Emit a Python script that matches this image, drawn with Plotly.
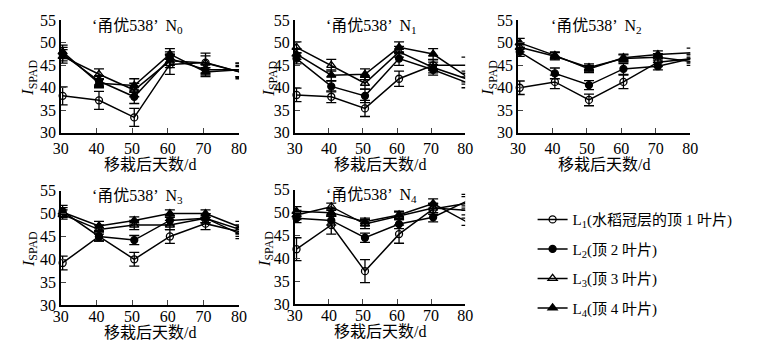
import plotly.graph_objects as go

W, H = 758, 353

days = [30.5, 40.7, 50.6, 60.6, 70.6, 80.4]
tick_vals = [30, 40, 50, 60, 70, 80]
y_ticks = [30, 35, 40, 45, 50, 55]

panel_names = ["N<sub>0</sub>", "N<sub>1</sub>", "N<sub>2</sub>", "N<sub>3</sub>", "N<sub>4</sub>"]
cultivar = "‘甬优538’"

series_names = [
    "L<sub>1</sub>(水稻冠层的顶 1 叶片)",
    "L<sub>2</sub>(顶 2 叶片)",
    "L<sub>3</sub>(顶 3 叶片)",
    "L<sub>4</sub>(顶 4 叶片)",
]

# values per panel (N0..N4), per series (L1..L4)
N0_L1 = [38.2, 37.2, 33.4, 45.2, 45.6, 43.5]
N0_L2 = [47.5, 41.5, 38.0, 46.5, 44.0, 44.0]
N0_L3 = [47.0, 43.0, 39.5, 46.0, 45.5, 43.5]
N0_L4 = [48.0, 41.0, 40.5, 47.5, 43.5, 44.0]
N0_E1 = [2.0, 2.0, 2.0, 2.2, 1.5, 1.2]
N0_E2 = [1.5, 1.2, 1.5, 1.5, 1.2, 1.5]
N0_E3 = [1.5, 1.2, 1.5, 1.5, 2.2, 1.5]
N0_E4 = [1.5, 1.0, 1.5, 1.2, 1.0, 1.5]

N1_L1 = [38.4, 38.0, 35.4, 42.0, 45.0, 45.0]
N1_L2 = [46.5, 40.3, 38.2, 46.5, 44.0, 41.2]
N1_L3 = [49.0, 45.0, 41.0, 48.0, 44.5, 42.0]
N1_L4 = [47.5, 42.8, 43.0, 49.0, 47.5, 42.5]
N1_E1 = [1.5, 1.3, 1.8, 1.7, 1.2, 1.8]
N1_E2 = [1.2, 1.2, 1.5, 1.5, 1.2, 1.2]
N1_E3 = [1.2, 1.3, 1.3, 1.2, 1.2, 1.2]
N1_E4 = [1.2, 1.2, 1.2, 1.2, 1.2, 1.2]

N2_L1 = [40.0, 41.3, 37.3, 41.3, 45.7, 46.5]
N2_L2 = [48.0, 43.2, 40.6, 44.2, 44.8, 46.5]
N2_L3 = [49.0, 47.0, 44.5, 46.5, 46.8, 45.8]
N2_L4 = [50.0, 47.2, 44.2, 46.7, 47.4, 47.8]
N2_E1 = [1.5, 1.5, 1.3, 1.5, 1.0, 1.0]
N2_E2 = [1.0, 1.2, 1.0, 1.2, 0.8, 0.8]
N2_E3 = [1.0, 0.8, 0.8, 0.8, 0.8, 0.8]
N2_E4 = [1.0, 0.8, 0.8, 0.8, 0.8, 1.0]

N3_L1 = [39.2, 45.0, 40.0, 45.0, 47.8, 46.0]
N3_L2 = [50.5, 45.0, 44.2, 48.5, 49.0, 45.5]
N3_L3 = [49.8, 46.5, 47.5, 47.5, 49.0, 46.5]
N3_L4 = [50.3, 47.3, 48.5, 50.0, 50.0, 47.0]
N3_E1 = [1.5, 1.0, 1.5, 1.5, 1.3, 1.0]
N3_E2 = [1.3, 1.0, 1.0, 1.0, 1.0, 1.0]
N3_E3 = [1.0, 1.0, 1.0, 1.0, 1.0, 1.0]
N3_E4 = [1.0, 1.0, 0.8, 0.8, 0.8, 1.3]

N4_L1 = [42.0, 47.3, 37.2, 45.3, 50.8, 52.0]
N4_L2 = [48.8, 48.3, 44.5, 47.5, 49.0, 52.5]
N4_L3 = [49.5, 51.3, 47.5, 49.3, 51.0, 50.5]
N4_L4 = [50.3, 50.0, 48.0, 49.5, 52.0, 48.0]
N4_E1 = [2.5, 2.0, 2.5, 2.0, 1.2, 1.5]
N4_E2 = [1.0, 1.0, 1.0, 1.0, 1.0, 1.5]
N4_E3 = [1.0, 0.8, 1.0, 0.8, 1.0, 1.0]
N4_E4 = [1.0, 0.8, 0.8, 0.8, 1.0, 0.8]

panel_values = [
    [N0_L1, N0_L2, N0_L3, N0_L4],
    [N1_L1, N1_L2, N1_L3, N1_L4],
    [N2_L1, N2_L2, N2_L3, N2_L4],
    [N3_L1, N3_L2, N3_L3, N3_L4],
    [N4_L1, N4_L2, N4_L3, N4_L4],
]
panel_errors = [
    [N0_E1, N0_E2, N0_E3, N0_E4],
    [N1_E1, N1_E2, N1_E3, N1_E4],
    [N2_E1, N2_E2, N2_E3, N2_E4],
    [N3_E1, N3_E2, N3_E3, N3_E4],
    [N4_E1, N4_E2, N4_E3, N4_E4],
]

symbols = ["circle-open", "circle", "triangle-up-open", "triangle-up"]
msizes = [7, 7, 8, 8]

# pixel boxes of the plot areas: (left, right, top, bottom)
boxes = [
    (54, 236, 13, 131),
    (293, 467, 13, 131),
    (521, 697, 13, 131),
    (54, 236, 192, 312),
    (293, 467, 191, 311),
]
ytitle_x = [22, 268, 492, 22, 263]
xtitle_off = [33, 33, 33, 29, 29]
title_dx = [78, 78, 80, 78, 78]

SERIF = "Liberation Serif, Noto Sans CJK SC"
fig = go.Figure()

for p in range(5):
    ax = "" if p == 0 else str(p + 1)
    for s in range(4):
        fig.add_trace(go.Scatter(
            x=days, y=panel_values[p][s],
            mode="lines+markers",
            name=series_names[s],
            legendgroup="g%d" % s,
            showlegend=(p == 0),
            line=dict(color="black", width=1.5),
            marker=dict(symbol=symbols[s], size=msizes[s], color="black",
                        line=dict(color="black", width=1.3)),
            error_y=dict(type="data", array=panel_errors[p][s], visible=True,
                         color="black", thickness=1.3, width=5),
            xaxis="x" + ax, yaxis="y" + ax,
            cliponaxis=False,
        ))

layout = dict(
    width=W, height=H,
    margin=dict(l=0, r=0, t=0, b=0),
    paper_bgcolor="white", plot_bgcolor="white",
    font=dict(family=SERIF, size=15, color="black"),
    legend=dict(x=0.707, y=1 - 205 / H, xanchor="left", yanchor="top",
                font=dict(family=SERIF, size=15, color="black"),
                tracegroupgap=7, bgcolor="rgba(0,0,0,0)"),
    annotations=[],
)

for p, (l, r, t, b) in enumerate(boxes):
    ax = "" if p == 0 else str(p + 1)
    layout["xaxis" + ax] = dict(
        domain=[l / W, r / W], range=[30, 80], anchor="y" + ax,
        tickvals=tick_vals, ticks="inside", ticklen=5, tickwidth=1.3,
        showline=True, linecolor="black", linewidth=1.5, showgrid=False,
        zeroline=False, tickfont=dict(family=SERIF, size=16),
        ticklabelstandoff=(0 if p < 3 else -4),
        fixedrange=True,
    )
    layout["yaxis" + ax] = dict(
        domain=[1 - b / H, 1 - t / H], range=[30, 55], anchor="x" + ax,
        tickvals=y_ticks, ticks="inside", ticklen=5, tickwidth=1.3,
        showline=True, linecolor="black", linewidth=1.5, showgrid=False,
        zeroline=False, tickfont=dict(family=SERIF, size=16),
        fixedrange=True,
    )
    cx = (l + r) / 2 / W
    layout["annotations"].append(dict(
        text=cultivar + "  " + panel_names[p], xref="paper", yref="paper",
        x=(l + title_dx[p]) / W,
        y=1 - (t + 6) / H, xanchor="center", yanchor="middle",
        showarrow=False, font=dict(family=SERIF, size=16)))
    layout["annotations"].append(dict(
        text="移栽后天数/d", xref="paper", yref="paper",
        x=cx, y=1 - (b + xtitle_off[p]) / H, xanchor="center", yanchor="middle",
        showarrow=False, font=dict(family=SERIF, size=16)))
    layout["annotations"].append(dict(
        text="<i>I</i><sub>SPAD</sub>", xref="paper", yref="paper",
        x=ytitle_x[p] / W, y=1 - ((t + b) / 2 + 2) / H,
        xanchor="center", yanchor="middle", textangle=-90,
        showarrow=False, font=dict(family=SERIF, size=17)))

fig.update_layout(**layout)
fig.write_html("out.html")
